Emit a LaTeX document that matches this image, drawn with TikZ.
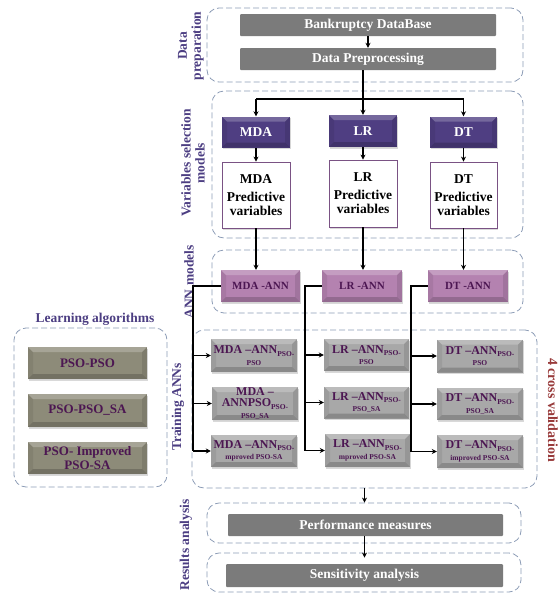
\documentclass[tikz,border=0pt]{standalone}
\usepackage{fontspec}
\setmainfont{Liberation Serif}
\usetikzlibrary{arrows.meta,shadows}
\definecolor{grpcol}{RGB}{140,156,182}
\definecolor{dgray}{RGB}{123,123,123}
\definecolor{vpurple}{RGB}{79,62,130}
\definecolor{predborder}{RGB}{122,82,132}
\definecolor{annpink}{RGB}{180,130,176}
\definecolor{trgray}{RGB}{168,168,168}
\definecolor{olive}{RGB}{141,139,121}
\definecolor{txtpurple}{RGB}{76,22,82}
\definecolor{lblpurple}{RGB}{76,62,130}
\definecolor{cvred}{RGB}{152,58,58}
\newcommand\sbx[1]{{\fontsize{7.5}{8}\selectfont #1}}
\newcommand\lsb[1]{\raisebox{-2.5pt}{\sbx{#1}}}
\tikzset{
  grp/.style={draw=grpcol, dash pattern=on 6pt off 3pt, line width=0.8pt, rounded corners=12pt, inner sep=0pt},
  bevel/.style={path picture={
    \fill[white,opacity=0.22] (path picture bounding box.north west) -- (path picture bounding box.north east) -- ([shift={(-5pt,-5pt)}]path picture bounding box.north east) -- ([shift={(5pt,-5pt)}]path picture bounding box.north west) -- cycle;
    \fill[black,opacity=0.18] (path picture bounding box.south west) -- (path picture bounding box.south east) -- ([shift={(-5pt,5pt)}]path picture bounding box.south east) -- ([shift={(5pt,5pt)}]path picture bounding box.south west) -- cycle;
    \fill[black,opacity=0.07] (path picture bounding box.north west) -- (path picture bounding box.south west) -- ([shift={(5pt,5pt)}]path picture bounding box.south west) -- ([shift={(5pt,-5pt)}]path picture bounding box.north west) -- cycle;
    \fill[black,opacity=0.1] (path picture bounding box.north east) -- (path picture bounding box.south east) -- ([shift={(-5pt,5pt)}]path picture bounding box.south east) -- ([shift={(-5pt,-5pt)}]path picture bounding box.north east) -- cycle;
  }},
  shd/.style={drop shadow={opacity=0.3, shadow xshift=1pt, shadow yshift=-1.5pt}},
  procbox/.style={fill=dgray, text=white, font=\fontsize{13.5}{15}\selectfont\bfseries, inner sep=0pt, rounded corners=1pt},
  vbox/.style={fill=vpurple, text=white, font=\fontsize{13.5}{15}\selectfont\bfseries, inner sep=0pt, bevel, shd},
  predbox/.style={fill=white, draw=predborder, line width=0.8pt, text=black, align=center, font=\fontsize{13.5}{14}\selectfont\bfseries, inner sep=0pt, shd},
  annbox/.style={fill=annpink, text=txtpurple, font=\fontsize{11}{13}\selectfont\bfseries, inner sep=0pt, bevel, shd},
  trbox/.style={fill=trgray, text=txtpurple, align=center, font=\fontsize{12}{11.5}\selectfont\bfseries, inner sep=0pt, bevel, shd},
  olbox/.style={fill=olive, text=txtpurple, align=center, font=\fontsize{13}{13.5}\selectfont\bfseries, inner sep=0pt, bevel, shd},
  lbl/.style={text=lblpurple, font=\fontsize{13.5}{14}\selectfont\bfseries, align=center},
  ln/.style={draw=black, line width=1.2pt},
  arr/.style={ln, -{Stealth[length=5pt,width=5pt]}},
}
\begin{document}
\begin{tikzpicture}[x=1pt,y=-1pt]
\useasboundingbox (0,0) rectangle (560,595);
% ---------- groups ----------
\node[grp, minimum width=316pt, minimum height=74pt] (gdata) at (365,45) {};
\node[grp, minimum width=311pt, minimum height=147pt] (gvar) at (367.5,164.5) {};
\node[grp, minimum width=311pt, minimum height=63pt] (gann) at (367.5,281.5) {};
\node[grp, minimum width=345pt, minimum height=158pt] (gtr) at (364.5,409) {};
\node[grp, minimum width=314pt, minimum height=40pt] (gperf) at (364,523) {};
\node[grp, minimum width=314pt, minimum height=39pt] (gsens) at (364,572.5) {};
\node[grp, minimum width=153pt, minimum height=159pt] (glearn) at (90.5,407.5) {};
% ---------- labels ----------
\node[lbl, rotate=90] (ldata) at (191,46) {Data\\preparation};
\node[lbl, rotate=90] (lvar) at (193,163) {Variables selection\\models};
\node[lbl, rotate=90] (lann) at (189,282) {ANN models};
\node[lbl, rotate=90] (ltr) at (178,407) {Training ANNs};
\node[lbl, rotate=90] (lres) at (186,545) {Results analysis};
\node[lbl, rotate=-90, text=cvred, font=\fontsize{14}{14}\selectfont\bfseries] (lcv) at (553,410) {4 cross validation};
\node[lbl] (llearn) at (95,319) {Learning algorithms};
% ---------- data preparation ----------
\node[procbox, minimum width=256pt, minimum height=22pt] (db) at (368,25) {Bankruptcy DataBase};
\node[procbox, minimum width=256pt, minimum height=22pt] (pre) at (368,59) {Data Preprocessing};
% ---------- variable selection ----------
\node[vbox, minimum width=68pt, minimum height=31pt] (mda) at (256,132) {MDA};
\node[vbox, minimum width=68pt, minimum height=32pt] (lr) at (363,131) {LR};
\node[vbox, minimum width=67pt, minimum height=31pt] (dt) at (463.5,132) {DT};
\node[predbox, minimum width=68pt, minimum height=66pt] (mdap) at (256,195) {MDA\\[4pt]Predictive\\variables};
\node[predbox, minimum width=68pt, minimum height=67pt] (lrp) at (363,193.5) {LR\\[4pt]Predictive\\variables};
\node[predbox, minimum width=67pt, minimum height=66pt] (dtp) at (463.5,195) {DT\\[4pt]Predictive\\variables};
% ---------- ANN models ----------
\node[annbox, minimum width=79pt, minimum height=32pt] (mdaann) at (260.5,286) {MDA -ANN};
\node[annbox, minimum width=80pt, minimum height=32pt] (lrann) at (362,286) {LR -ANN};
\node[annbox, minimum width=80pt, minimum height=32pt] (dtann) at (468,286) {DT -ANN};
% ---------- training ----------
\node[trbox, minimum width=86pt, minimum height=33pt] (m1) at (254,355.5) {MDA –ANN\lsb{PSO-}\\\sbx{PSO}};
\node[trbox, minimum width=86pt, minimum height=33pt] (m2) at (255,403.5) {MDA –\\ANNPSO\lsb{PSO-}\\\sbx{PSO\_SA}};
\node[trbox, minimum width=86pt, minimum height=32pt] (m3) at (254,451) {MDA –ANN\lsb{PSO-}\\\sbx{mproved PSO-SA}};
\node[trbox, minimum width=85pt, minimum height=32pt] (l1) at (366.5,355) {LR –ANN\lsb{PSO-}\\\sbx{PSO}};
\node[trbox, minimum width=85pt, minimum height=32pt] (l2) at (366.5,402.5) {LR –ANN\lsb{PSO-}\\\sbx{PSO\_SA}};
\node[trbox, minimum width=85pt, minimum height=33pt] (l3) at (367.5,450.5) {LR –ANN\lsb{PSO-}\\\sbx{mproved PSO-SA}};
\node[trbox, minimum width=86pt, minimum height=33pt] (d1) at (480,356) {DT –ANN\lsb{PSO-}\\\sbx{PSO}};
\node[trbox, minimum width=86pt, minimum height=32pt] (d2) at (480,404) {DT –ANN\lsb{PSO-}\\\sbx{PSO\_SA}};
\node[trbox, minimum width=86pt, minimum height=33pt] (d3) at (480,451.5) {DT –ANN\lsb{PSO-}\\\sbx{improved PSO-SA}};
% ---------- learning algorithms ----------
\node[olbox, minimum width=119pt, minimum height=32pt] (p1) at (87.5,363) {PSO-PSO};
\node[olbox, minimum width=119pt, minimum height=33pt] (p2) at (87.5,410.5) {PSO-PSO\_SA};
\node[olbox, minimum width=119pt, minimum height=32pt] (p3) at (87.5,458) {PSO- Improved\\PSO-SA};
% ---------- results ----------
\node[procbox, minimum width=275pt, minimum height=22pt] (perf) at (365.5,525) {Performance measures};
\node[procbox, minimum width=277pt, minimum height=23pt] (sens) at (364.5,575.5) {Sensitivity analysis};
% ---------- connectors ----------
\draw[arr] (db) -- (pre);
\coordinate (br) at (363,99);
\draw[ln] (pre.south -| br) -- (br);
\draw[ln] (br -| mda) -- (br -| dt);
\draw[arr] (br -| mda) -- (mda);
\draw[arr] (br) -- (lr);
\draw[arr] (br -| dt) -- (dt);
\draw[arr] (mda) -- (mdap);
\draw[arr] (lr) -- (lrp);
\draw[arr] (dt) -- (dtp);
\draw[arr] (mdap.south) -- (mdap.south |- mdaann.north);
\draw[arr] (lrp.south) -- (lrp.south |- lrann.north);
\draw[arr] (dtp.south) -- (dtp.south |- dtann.north);
% buses
\coordinate (bm) at (193,0);
\coordinate (bl) at (305,0);
\coordinate (bd) at (411,0);
\draw[ln] (mdaann.west) -- (mdaann.west -| bm) -- (bm |- m3.west);
\draw[arr] (bm |- m1.west) -- (m1.west);
\draw[arr] (bm |- m2.west) -- (m2.west);
\draw[arr] (bm |- m3.west) -- (m3.west);
\draw[ln] (lrann.west) -- (lrann.west -| bl) -- (bl |- l3.west);
\draw[arr] (bl |- l1.west) -- (l1.west);
\draw[arr] (bl |- l2.west) -- (l2.west);
\draw[arr] (bl |- l3.west) -- (l3.west);
\draw[ln] (dtann.west) -- (dtann.west -| bd) -- (bd |- d3.west);
\draw[arr] (bd |- d1.west) -- (d1.west);
\draw[arr] (bd |- d2.west) -- (d2.west);
\draw[arr] (bd |- d3.west) -- (d3.west);
% results
\draw[arr] (gtr.south -| sens) -- (gperf.north -| sens);
\draw[arr] (perf.south -| sens) -- ([yshift=-5pt]gsens.north -| sens);
\end{tikzpicture}
\end{document}
